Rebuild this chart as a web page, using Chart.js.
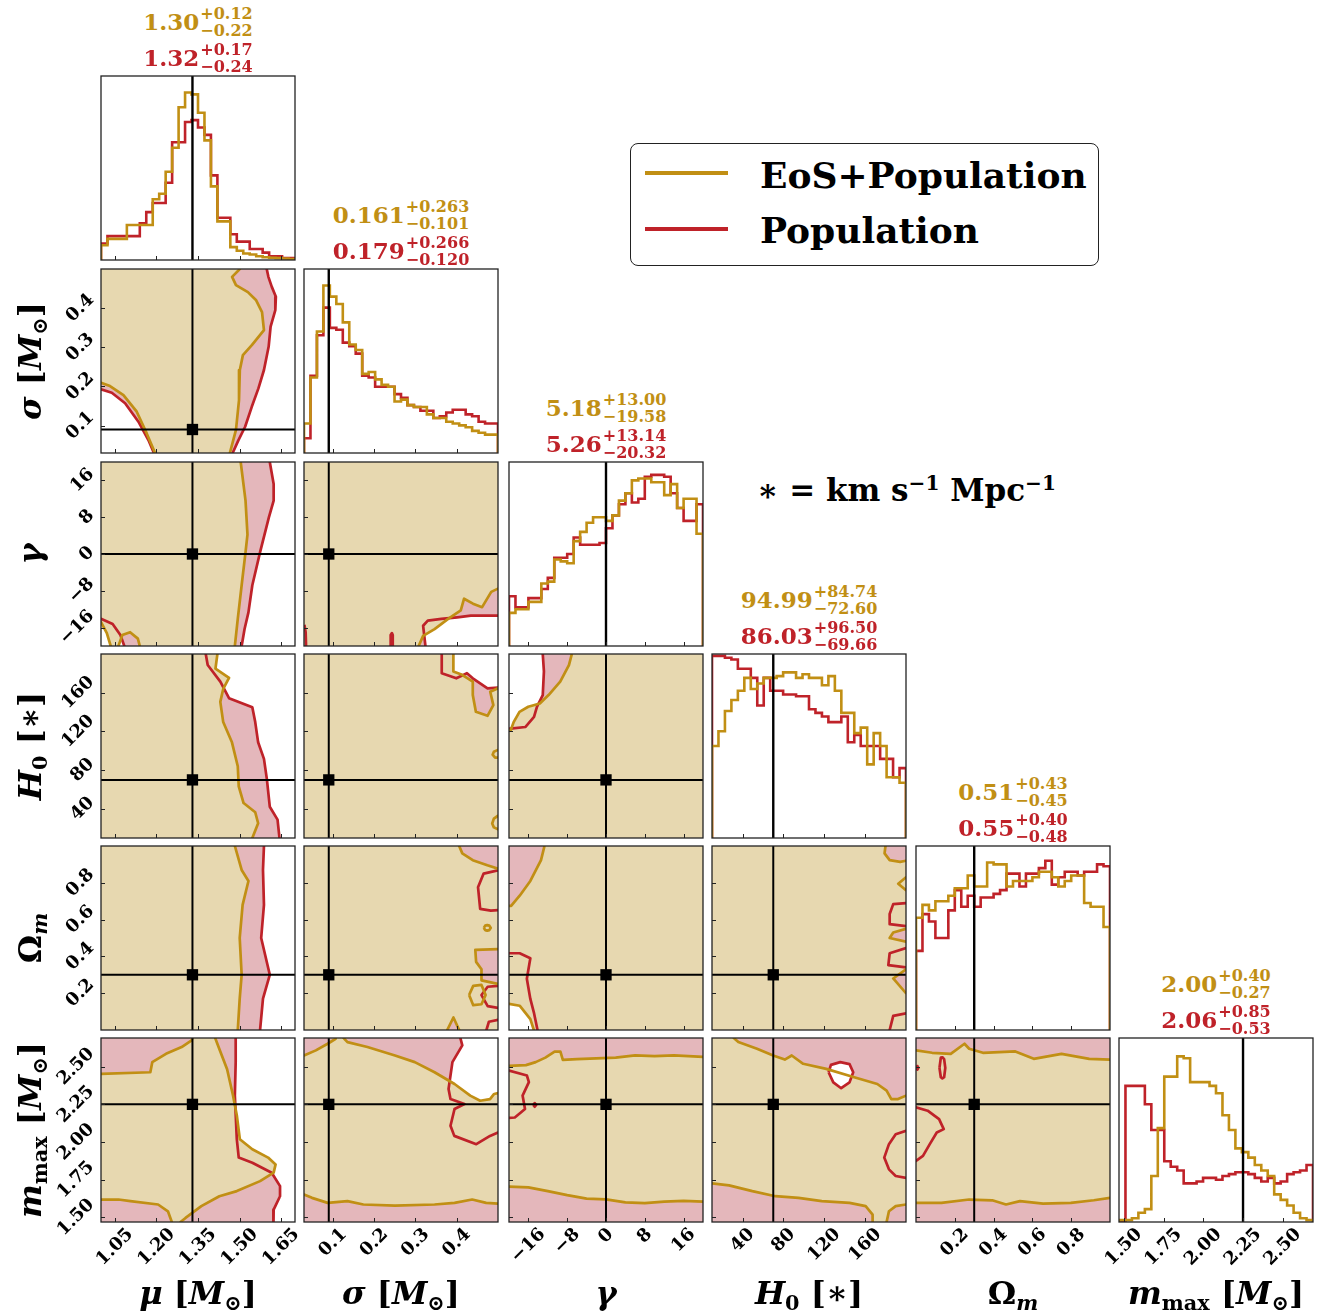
<!DOCTYPE html>
<html>
<head>
<meta charset="utf-8">
<script src="https://cdn.jsdelivr.net/npm/chart.js@4.4.1/dist/chart.umd.min.js"></script>
<style>
body { margin: 0; background: #fff; }
#fig { position: relative; width: 1323px; height: 1313px; overflow: hidden; background: #fff;
       font-family: "DejaVu Serif", serif; font-weight: bold; color: #000; }
#fig canvas { position: absolute; }
.ttl { position: absolute; display: flex; align-items: center; white-space: nowrap; transform: translate(-50%, -50%); }
.ttl .v { font-size: 23px; line-height: 26px; }
.ttl .ss { display: flex; flex-direction: column; font-size: 16px; line-height: 17px; margin-left: 1px; }
.xl { position: absolute; transform: translate(-50%, -50%); font-size: 32px; white-space: nowrap; }
.yl { position: absolute; transform: translate(-50%, -50%) rotate(-90deg); font-size: 32px; white-space: nowrap; }
sub { font-size: 0.65em; vertical-align: -0.3em; line-height: 0; }
sup { font-size: 0.65em; vertical-align: 0.55em; line-height: 0; }
#leg { position: absolute; left: 630px; top: 143px; width: 467px; height: 121px; border: 1.5px solid #222; border-radius: 8px; }
.lgl { position: absolute; left: 645px; width: 83px; height: 4px; }
.lgt { position: absolute; left: 760px; font-size: 36px; transform: translateY(-50%); white-space: nowrap; }
</style>
</head>
<body>
<div id="fig"></div>
<script>
// colours
const EOS = '#c18f14', POP = '#bf2229';
const EOS_FILL = '#e7d8b0', POP_FILL = '#e4b7bb';

// axes (mu, sigma, gamma, H0, Omega_m, m_max)
const axisMin = [1.0, 0.03, -20, 10, 0, 1.47];
const axisMax = [1.7, 0.5, 20, 200, 1, 2.69];
const truth = [1.33, 0.09, 0, 70, 0.3, 2.25];

const muTicks = [1.05, 1.20, 1.35, 1.50, 1.65];
const sigmaTicks = [0.1, 0.2, 0.3, 0.4];
const gammaTicks = [-16, -8, 0, 8, 16];
const h0Ticks = [40, 80, 120, 160];
const omTicks = [0.2, 0.4, 0.6, 0.8];
const mmaxTicks = [1.50, 1.75, 2.00, 2.25, 2.50];

const muTickLabels = ['1.05', '1.20', '1.35', '1.50', '1.65'];
const sigmaTickLabels = ['0.1', '0.2', '0.3', '0.4'];
const gammaTickLabels = ['\u221216', '\u22128', '0', '8', '16'];
const h0TickLabels = ['40', '80', '120', '160'];
const omTickLabels = ['0.2', '0.4', '0.6', '0.8'];
const mmaxTickLabels = ['1.50', '1.75', '2.00', '2.25', '2.50'];

const axisLabels = ['<i>\u03bc</i> [<i>M</i><sub>\u2299</sub>]', '<i>\u03c3</i> [<i>M</i><sub>\u2299</sub>]',
  '<i>\u03b3</i>', '<i>H</i><sub>0</sub> [\u2217]', '\u03a9<sub><i>m</i></sub>',
  '<i>m</i><sub>max</sub> [<i>M</i><sub>\u2299</sub>]'];

// summary titles
const eosMedian = ['1.30', '0.161', '5.18', '94.99', '0.51', '2.00'];
const eosPlus = ['0.12', '0.263', '13.00', '84.74', '0.43', '0.40'];
const eosMinus = ['0.22', '0.101', '19.58', '72.60', '0.45', '0.27'];
const popMedian = ['1.32', '0.179', '5.26', '86.03', '0.55', '2.06'];
const popPlus = ['0.17', '0.266', '13.14', '96.50', '0.40', '0.85'];
const popMinus = ['0.24', '0.120', '20.32', '69.66', '0.48', '0.53'];

// 1D histograms (relative density, 30 bins over the axis range)
const muHistEos = [.08,.115,.115,.115,.19,.19,.19,.19,.33,.36,.48,.61,.83,.91,.90,.80,.65,.40,.21,.21,.07,.05,.035,.03,.02,.015,.012,.01,.008,.005];
const muHistPop = [.09,.13,.13,.13,.13,.13,.20,.26,.31,.31,.42,.64,.64,.75,.76,.72,.68,.46,.23,.23,.14,.10,.10,.06,.06,.04,.02,.02,.01,.01];
const sigmaHistEos = [.16,.41,.66,.91,.85,.81,.71,.59,.56,.43,.44,.40,.37,.36,.28,.29,.26,.25,.25,.21,.19,.19,.17,.16,.15,.14,.12,.11,.10,.10];
const sigmaHistPop = [.08,.42,.64,.79,.68,.67,.60,.58,.54,.42,.41,.36,.36,.36,.32,.30,.26,.25,.23,.23,.19,.20,.22,.235,.235,.21,.20,.17,.16,.16];
const gammaHistEos = [.18,.20,.20,.24,.24,.34,.35,.47,.46,.45,.57,.62,.67,.70,.70,.68,.71,.79,.83,.90,.91,.91,.89,.89,.82,.88,.75,.80,.80,.61];
const gammaHistPop = [.27,.21,.21,.26,.26,.31,.37,.48,.48,.50,.59,.55,.55,.55,.56,.64,.71,.77,.83,.78,.80,.92,.93,.93,.92,.83,.75,.68,.68,.77];
const h0HistEos = [.50,.58,.69,.75,.80,.87,.81,.84,.87,.87,.88,.90,.90,.87,.89,.87,.87,.83,.88,.80,.68,.68,.57,.60,.40,.57,.50,.33,.33,.30];
const h0HistPop = [.99,.99,.98,.97,.92,.92,.87,.72,.87,.80,.80,.78,.78,.77,.77,.70,.68,.66,.63,.63,.66,.52,.56,.50,.50,.50,.43,.43,.33,.38];
const omHistEos = [.61,.68,.65,.70,.70,.73,.77,.77,.84,.78,.78,.91,.90,.90,.78,.81,.81,.81,.83,.86,.86,.83,.78,.81,.84,.84,.69,.67,.67,.56];
const omHistPop = [.43,.63,.59,.50,.50,.65,.76,.67,.73,.67,.72,.72,.74,.76,.85,.85,.78,.85,.85,.88,.92,.79,.83,.86,.86,.84,.86,.86,.90,.89];
const mmaxHistEos = [.01,.01,.02,.05,.07,.25,.51,.79,.79,.90,.89,.76,.76,.76,.74,.70,.58,.50,.40,.38,.35,.31,.28,.25,.15,.12,.09,.05,.02,.01];
const mmaxHistPop = [0,.74,.74,.74,.64,.50,.50,.33,.30,.28,.21,.21,.22,.24,.24,.23,.25,.26,.27,.27,.26,.24,.22,.24,.21,.22,.26,.27,.28,.31];

// 2D credible regions [x, y] (points past the axis limits close the shapes off-panel)
const muSigEos = [[0.95,0.55],[1.501,0.55],[1.501,0.5],[1.473,0.48],[1.487,0.459],[1.530,0.441],[1.559,0.421],[1.581,0.39],[1.588,0.344],[1.545,0.306],[1.512,0.28],[1.501,0.242],[1.498,0.165],[1.487,0.089],[1.465,0.03],[1.465,0.0],[1.195,0.0],[1.195,0.03],[1.165,0.080],[1.129,0.1355],[1.081,0.178],[1.0325,0.201],[1.0,0.2096],[0.95,0.21]];
const muSigPop = [[0.95,0.55],[1.598,0.55],[1.598,0.5],[1.604,0.48],[1.616,0.455],[1.631,0.429],[1.629,0.395],[1.612,0.353],[1.605,0.302],[1.588,0.242],[1.568,0.195],[1.544,0.148],[1.520,0.097],[1.496,0.063],[1.475,0.03],[1.475,0.0],[1.191,0.0],[1.191,0.03],[1.171,0.063],[1.135,0.110],[1.087,0.157],[1.039,0.184],[1.0,0.1926],[0.95,0.193]];

const muGamEos = [[0.95,22],[1.504,22],[1.504,20],[1.5215,11.6],[1.5285,4.2],[1.5215,0.4],[1.5075,-6.8],[1.4935,-14.1],[1.483,-20],[1.483,-22],[1.14,-22],[1.14,-20],[1.133,-18.4],[1.105,-17],[1.077,-17.6],[1.063,-20],[1.063,-22],[1.035,-22],[1.035,-20],[1.021,-17.2],[1.0,-14.8],[0.95,-14.8]];
const muGamPop = [[0.95,22],[1.609,22],[1.609,20],[1.623,15.2],[1.623,11.6],[1.6055,7.9],[1.574,0.4],[1.546,-6.8],[1.532,-12.7],[1.518,-16.3],[1.5075,-20],[1.5075,-22],[1.084,-22],[1.084,-20],[1.07,-17.6],[1.042,-15.2],[1.0,-14.1],[0.95,-14.1]];

const muH0Eos = [[0.95,210],[1.42,210],[1.42,200],[1.413,184.8],[1.462,175.3],[1.441,163.9],[1.4305,150.6],[1.441,129.7],[1.4725,108.8],[1.4935,84.1],[1.497,63.2],[1.5145,46.1],[1.5565,36.6],[1.567,25.2],[1.546,10],[1.546,0],[0.95,0]];
const muH0Pop = [[0.95,210],[1.378,210],[1.378,200],[1.385,188.6],[1.4305,171.5],[1.462,154.4],[1.546,144.9],[1.5565,129.7],[1.567,108.8],[1.588,91.7],[1.5985,70.8],[1.609,42.3],[1.637,29],[1.644,10],[1.644,0],[0.95,0]];

const muOmEos = [[0.95,1.05],[1.483,1.05],[1.483,1],[1.5075,0.87],[1.532,0.81],[1.511,0.68],[1.5005,0.5],[1.5075,0.3],[1.5005,0.17],[1.4935,0],[1.4935,-0.05],[0.95,-0.05]];
const muOmPop = [[0.95,1.05],[1.588,1.05],[1.588,1],[1.5845,0.87],[1.588,0.68],[1.578,0.5],[1.609,0.3],[1.5845,0.17],[1.574,0],[1.574,-0.05],[0.95,-0.05]];

const muMmaxEos = [[0.95,2.452],[1.0,2.452],[1.178,2.463],[1.185,2.53],[1.2345,2.585],[1.291,2.63],[1.327,2.674],[1.33,2.69],[1.33,2.8],[1.412,2.8],[1.412,2.69],[1.427,2.617],[1.455,2.483],[1.476,2.312],[1.49,2.178],[1.501,2.019],[1.546,1.952],[1.603,1.897],[1.63,1.852],[1.623,1.797],[1.574,1.741],[1.49,1.675],[1.427,1.641],[1.362,1.575],[1.305,1.497],[1.287,1.47],[1.287,1.4],[1.2555,1.4],[1.2555,1.47],[1.2415,1.541],[1.206,1.586],[1.106,1.608],[1.063,1.619],[1.0,1.619],[0.95,1.619]];
const muMmaxPop = [[0.95,2.8],[1.486,2.8],[1.486,2.69],[1.486,2.53],[1.483,2.308],[1.49,2.019],[1.497,1.897],[1.546,1.863],[1.616,1.797],[1.646,1.708],[1.646,1.641],[1.623,1.552],[1.622,1.47],[1.622,1.4],[0.95,1.4]];

const sigGamEos = [[0.0,22],[0.55,22],[0.55,-7.52],[0.5,-7.52],[0.4836,-8.24],[0.4615,-11.56],[0.4394,-10.8],[0.4178,-9.72],[0.4098,-12.28],[0.3792,-14.12],[0.3463,-16.32],[0.3186,-17.8],[0.3078,-20],[0.3078,-22],[0.0,-22]];
const sigGamPop = [[0,22],[0.55,22],[0.55,-13.4],[0.5,-13.4],[0.4342,-13.4],[0.4013,-13.76],[0.3628,-14.12],[0.3299,-14.48],[0.3186,-15.6],[0.3242,-20],[0.3242,-22],[0,-22]];
const sigGamPopEdge = [[0.031,-15.4],[0.034,-17],[0.035,-20],[0.035,-22]];
const sigGamPopBlob = [[0.240,-22],[0.240,-17.6],[0.243,-17.2],[0.245,-17.6],[0.245,-22]];

const sigH0Eos = [[0,210],[0.3919,210],[0.3919,200],[0.3919,182],[0.413,178.5],[0.4389,171.5],[0.4389,157.6],[0.4464,140.3],[0.4746,136.2],[0.4887,147.2],[0.4812,161],[0.5,164.7],[0.55,164.7],[0.55,0],[0,0]];
const sigH0Pop = [[0,210],[0.3637,210],[0.3637,200],[0.3637,180.2],[0.399,174.9],[0.4248,180.2],[0.4389,174.9],[0.4746,164.5],[0.5,165.2],[0.55,165.2],[0.55,0],[0,0]];
const sigH0EosEdgeA = [[0.55,101],[0.5,101],[0.49,99],[0.487,96],[0.493,93],[0.5,93],[0.55,93]];
const sigH0EosEdgeB = [[0.55,33],[0.5,33],[0.49,30],[0.486,25],[0.49,21],[0.5,19],[0.55,19]];

const sigOmEos = [[0,1.05],[0.406,1.05],[0.406,1],[0.4135,0.96],[0.4389,0.923],[0.4742,0.895],[0.5,0.877],[0.55,0.877],[0.55,0.44],[0.5,0.44],[0.445,0.436],[0.447,0.37],[0.46,0.33],[0.46,0.27],[0.5,0.25],[0.55,0.25],[0.55,-0.05],[0.406,-0.05],[0.406,0],[0.392,0.068],[0.377,0],[0.377,-0.05],[0,-0.05]];
const sigOmPop = [[0,1.05],[0.55,1.05],[0.55,0.868],[0.5,0.868],[0.4652,0.85],[0.4516,0.776],[0.4568,0.658],[0.4826,0.649],[0.5,0.651],[0.55,0.651],[0.55,-0.05],[0,-0.05]];
const sigOmEosDot = [[0.4655,0.555],[0.469,0.567],[0.474,0.57],[0.479,0.567],[0.4825,0.555],[0.479,0.543],[0.474,0.54],[0.469,0.543],[0.4655,0.555]];
const sigOmEosLoop = [[0.43,0.19],[0.44,0.24],[0.46,0.245],[0.47,0.19],[0.46,0.14],[0.44,0.135],[0.43,0.19]];
const sigOmPopLoop = [[0.55,0.24],[0.5,0.24],[0.475,0.235],[0.46,0.19],[0.475,0.13],[0.5,0.12],[0.55,0.12]];
const sigOmPopCorner = [[0.55,0.055],[0.5,0.055],[0.478,0.045],[0.472,0],[0.472,-0.05]];

const sigMmaxEos = [[0,2.574],[0.03,2.574],[0.0587,2.608],[0.0873,2.652],[0.1066,2.685],[0.1066,2.69],[0.1066,2.8],[0.1259,2.8],[0.1259,2.69],[0.1353,2.663],[0.1837,2.63],[0.2504,2.574],[0.2984,2.53],[0.3463,2.463],[0.3947,2.385],[0.4328,2.308],[0.4568,2.274],[0.4807,2.285],[0.4906,2.319],[0.5,2.324],[0.55,2.324],[0.55,1.592],[0.5,1.592],[0.4713,1.597],[0.4375,1.619],[0.3947,1.597],[0.3463,1.586],[0.2504,1.579],[0.1738,1.586],[0.1353,1.608],[0.0873,1.597],[0.0493,1.63],[0.03,1.652],[0,1.652]];
const sigMmaxPop = [[0,2.8],[0.4088,2.8],[0.4088,2.69],[0.4135,2.641],[0.3896,2.53],[0.3802,2.352],[0.3849,2.285],[0.4187,2.252],[0.3947,2.219],[0.3849,2.108],[0.3941,2.041],[0.4474,1.986],[0.4807,2.041],[0.5,2.063],[0.55,2.063],[0.55,1.4],[0,1.4]];

const gamH0Eos = [[-7.04,210],[22,210],[22,0],[-22,0],[-22,121.2],[-19.64,121.2],[-19.04,129.7],[-17.84,140.3],[-16.04,145.5],[-13.64,148.9],[-11.84,157.6],[-9.44,171.5],[-7.64,188.6],[-7.04,200]];
const gamH0Pop = [[-13.04,210],[22,210],[22,0],[-22,0],[-22,122.9],[-19.64,122.9],[-16.64,124.6],[-14.84,135],[-14.24,145.5],[-13.04,157.6],[-12.8,182],[-13.04,200]];

const gamOmEos = [[-12.68,1.05],[22,1.05],[22,-0.05],[-14.88,-0.05],[-14.88,0],[-15.6,0.059],[-17.8,0.132],[-20,0.142],[-22,0.142],[-22,0.67],[-19.56,0.675],[-17.8,0.73],[-15.6,0.81],[-13.4,0.923],[-12.68,1]];
const gamOmPop = [[-22,1.05],[22,1.05],[22,-0.05],[-14.12,-0.05],[-14.12,0],[-14.88,0.096],[-15.6,0.169],[-16.32,0.279],[-15.6,0.39],[-17.8,0.417],[-20,0.417],[-22,0.417]];

const gamMmaxEos = [[-22,2.505],[-20,2.505],[-16.5,2.51],[-14.5,2.53],[-12.5,2.56],[-10.6,2.60],[-9.4,2.60],[-8.9,2.545],[-6,2.55],[-2,2.555],[2,2.56],[6,2.575],[10,2.57],[14,2.575],[20,2.565],[22,2.565],[22,1.605],[20,1.605],[16,1.61],[12,1.605],[8,1.595],[4,1.60],[0,1.62],[-4,1.625],[-8,1.648],[-12,1.675],[-16,1.70],[-20,1.705],[-22,1.705]];
const gamMmaxPop = [[-22,2.8],[22,2.8],[22,1.4],[-22,1.4]];
const gamMmaxPopLoop = [[-22,2.474],[-20,2.474],[-16.3,2.441],[-15.9,2.397],[-17.2,2.308],[-16.7,2.219],[-18.8,2.163],[-20,2.16],[-22,2.16]];
const gamMmaxPopDot = [[-15.0,2.246],[-14.7,2.258],[-14.4,2.246],[-14.7,2.234],[-15.0,2.246]];

const h0OmEos = [[0,1.05],[179.9,1.05],[179.9,1],[179,0.96],[184,0.923],[194.3,0.914],[200,0.92],[210,0.92],[210,0.55],[200,0.55],[187.5,0.53],[184,0.5],[200,0.48],[210,0.48],[210,0.33],[200,0.33],[187.5,0.28],[200,0.2],[210,0.2],[210,-0.05],[0,-0.05]];
const h0OmPop = [[0,1.05],[210,1.05],[210,-0.05],[0,-0.05]];
const h0OmEosEdge = [[210,0.83],[200,0.83],[192.4,0.795],[200,0.76],[210,0.76]];
const h0OmPopEdgeA = [[210,0.69],[200,0.69],[187.5,0.684],[184,0.63],[184,0.575],[200,0.565],[210,0.565]];
const h0OmPopEdgeB = [[210,0.445],[200,0.445],[184,0.417],[182.7,0.353],[200,0.34],[210,0.34]];
const h0OmPopEdgeC = [[210,0.09],[200,0.09],[187.5,0.077],[184,0],[184,-0.05]];

const h0MmaxEos = [[0,2.8],[31.3,2.8],[31.3,2.69],[35.8,2.663],[54.1,2.619],[69.9,2.574],[81.3,2.547],[88.1,2.574],[99.3,2.519],[121.9,2.485],[149.3,2.43],[171.9,2.385],[181,2.341],[185.6,2.285],[192.2,2.285],[200,2.308],[210,2.308],[210,1.586],[200,1.586],[189.9,1.575],[183.3,1.541],[181,1.47],[181,1.4],[167.3,1.4],[167.3,1.47],[167.3,1.519],[160.5,1.575],[144.7,1.597],[117.5,1.608],[94.7,1.63],[72.1,1.641],[49.5,1.675],[26.7,1.713],[10,1.726],[0,1.726]];
const h0MmaxPop = [[0,2.8],[210,2.8],[210,1.4],[0,1.4]];
const h0MmaxHole = [[124.2,2.463],[126.5,2.512],[135.6,2.53],[144.7,2.517],[148.3,2.463],[144.7,2.396],[136.5,2.357],[128.8,2.396],[124.2,2.463]];
const h0MmaxPopLoop = [[210,2.074],[200,2.074],[189.9,2.052],[183.3,1.986],[178.7,1.897],[183.3,1.819],[189.9,1.775],[200,1.763],[210,1.763]];

const omMmaxEos = [[-0.05,2.608],[0,2.608],[0.083,2.592],[0.179,2.585],[0.25,2.652],[0.274,2.619],[0.345,2.592],[0.512,2.601],[0.607,2.552],[0.75,2.585],[0.893,2.552],[1,2.547],[1.05,2.547],[1.05,1.63],[1,1.63],[0.917,1.614],[0.798,1.597],[0.655,1.592],[0.536,1.608],[0.464,1.586],[0.393,1.614],[0.274,1.619],[0.131,1.597],[0,1.597],[-0.05,1.597]];
const omMmaxPop = [[-0.05,2.8],[1.05,2.8],[1.05,1.4],[-0.05,1.4]];
const omMmaxPopEllipse = [[0.121,2.492],[0.128,2.56],[0.136,2.562],[0.145,2.55],[0.151,2.492],[0.145,2.43],[0.136,2.422],[0.128,2.43],[0.121,2.492]];
const omMmaxPopDot = [[0.002,2.492],[0.007,2.504],[0.012,2.492],[0.007,2.48],[0.002,2.492]];
const omMmaxPopLoop = [[-0.05,2.23],[0,2.23],[0.06,2.208],[0.119,2.152],[0.143,2.086],[0.107,2.063],[0.071,1.986],[0.036,1.908],[0,1.875],[-0.05,1.875]];

// lookup tables built from the arrays above
const ticks = [muTicks, sigmaTicks, gammaTicks, h0Ticks, omTicks, mmaxTicks];
const tickLabels = [muTickLabels, sigmaTickLabels, gammaTickLabels, h0TickLabels, omTickLabels, mmaxTickLabels];
const histEos = [muHistEos, sigmaHistEos, gammaHistEos, h0HistEos, omHistEos, mmaxHistEos];
const histPop = [muHistPop, sigmaHistPop, gammaHistPop, h0HistPop, omHistPop, mmaxHistPop];
const regions = {
  '1,0': {eos: [muSigEos], pop: [muSigPop]},
  '2,0': {eos: [muGamEos], pop: [muGamPop]},
  '3,0': {eos: [muH0Eos], pop: [muH0Pop]},
  '4,0': {eos: [muOmEos], pop: [muOmPop]},
  '5,0': {eos: [muMmaxEos], pop: [muMmaxPop]},
  '2,1': {eos: [sigGamEos], pop: [sigGamPop], popLine: [sigGamPopEdge, sigGamPopBlob]},
  '3,1': {eos: [sigH0Eos], pop: [sigH0Pop], eosLine: [sigH0EosEdgeA, sigH0EosEdgeB]},
  '4,1': {eos: [sigOmEos], pop: [sigOmPop], eosLine: [sigOmEosDot, sigOmEosLoop], popLine: [sigOmPopLoop, sigOmPopCorner]},
  '5,1': {eos: [sigMmaxEos], pop: [sigMmaxPop]},
  '3,2': {eos: [gamH0Eos], pop: [gamH0Pop]},
  '4,2': {eos: [gamOmEos], pop: [gamOmPop]},
  '5,2': {eos: [gamMmaxEos], pop: [gamMmaxPop], popLine: [gamMmaxPopLoop, gamMmaxPopDot]},
  '4,3': {eos: [h0OmEos], pop: [h0OmPop], eosLine: [h0OmEosEdge], popLine: [h0OmPopEdgeA, h0OmPopEdgeB, h0OmPopEdgeC]},
  '5,3': {eos: [h0MmaxEos], pop: [h0MmaxPop], hole: [h0MmaxHole], popLine: [h0MmaxPopLoop]},
  '5,4': {eos: [omMmaxEos], pop: [omMmaxPop], popLine: [omMmaxPopEllipse, omMmaxPopDot, omMmaxPopLoop]}
};

// layout
const COLS = [101, 304, 509, 712, 916, 1119];
const ROWS = [76, 269, 462, 654, 846, 1038];
const PW = 194, PH = 184;
const fig = document.getElementById('fig');

function pts(arr) { return arr.map(p => ({x: p[0], y: p[1]})); }

function fillSet(poly, color, order) {
  return {data: pts(poly), showLine: true, fill: 'shape', backgroundColor: color,
    borderColor: 'rgba(0,0,0,0)', borderWidth: 1, pointRadius: 0, tension: 0, order: order};
}
function lineSet(poly, color, order, width) {
  return {data: pts(poly), showLine: true, fill: false, borderColor: color, borderWidth: width || 2.7,
    pointRadius: 0, tension: 0, order: order, borderJoinStyle: 'round'};
}
function histSet(vals, lo, hi, color, order) {
  const n = vals.length;
  const d = [{x: lo, y: 0}];
  vals.forEach((v, i) => d.push({x: lo + (hi - lo) * i / n, y: v}));
  d.push({x: hi, y: vals[n - 1]});
  d.push({x: hi, y: 0});
  return {data: d, showLine: true, stepped: true, fill: false, borderColor: color, borderWidth: 2.6,
    pointRadius: 0, order: order};
}

function framePlugin(r, c) {
  return {
    id: 'frame',
    afterDraw(chart) {
      const ctx = chart.ctx, a = chart.chartArea;
      const x = chart.scales.x, y = chart.scales.y;
      ctx.save();
      ctx.strokeStyle = '#222';
      ctx.lineWidth = 1;
      ctx.beginPath();
      ticks[c].forEach(v => {
        const px = Math.round(x.getPixelForValue(v)) + 0.5;
        ctx.moveTo(px, a.bottom); ctx.lineTo(px, a.bottom - 4);
      });
      if (r !== c) {
        ticks[r].forEach(v => {
          const py = Math.round(y.getPixelForValue(v)) + 0.5;
          ctx.moveTo(a.left, py); ctx.lineTo(a.left + 4, py);
        });
      }
      ctx.stroke();
      ctx.lineWidth = 1.3;
      ctx.strokeRect(a.left, a.top, a.right - a.left, a.bottom - a.top);

      ctx.fillStyle = '#000';
      ctx.font = 'bold 18px "DejaVu Serif"';
      ctx.textAlign = 'center';
      ctx.textBaseline = 'middle';
      const h = 13, pad = 5;
      const put = (txt, cx, cy) => {
        ctx.save(); ctx.translate(cx, cy); ctx.rotate(-Math.PI / 4); ctx.fillText(txt, 0, 0); ctx.restore();
      };
      if (r === 5) {
        ticks[c].forEach((v, i) => {
          const t = tickLabels[c][i];
          const s = (ctx.measureText(t).width + h) / (2 * Math.SQRT2);
          put(t, x.getPixelForValue(v), a.bottom + pad + s);
        });
      }
      if (c === 0 && r > 0) {
        ticks[r].forEach((v, i) => {
          const t = tickLabels[r][i];
          const s = (ctx.measureText(t).width + h) / (2 * Math.SQRT2);
          put(t, a.left - pad - s, y.getPixelForValue(v));
        });
      }
      ctx.restore();
    }
  };
}

function makePanel(r, c) {
  const padL = c === 0 ? 75 : (r === 5 ? 40 : 4);
  const padR = r === 5 ? 30 : 4, padT = 4, padB = r === 5 ? 75 : 4;
  const cv = document.createElement('canvas');
  cv.width = PW + padL + padR; cv.height = PH + padT + padB;
  cv.style.width = cv.width + 'px'; cv.style.height = cv.height + 'px';
  cv.style.left = (COLS[c] - padL) + 'px'; cv.style.top = (ROWS[r] - padT) + 'px';
  fig.appendChild(cv);

  let datasets = [], yMin, yMax;
  if (r === c) {
    yMin = 0; yMax = 1;
    datasets.push(histSet(histPop[c], axisMin[c], axisMax[c], POP, 30));
    datasets.push(histSet(histEos[c], axisMin[c], axisMax[c], EOS, 20));
    datasets.push(lineSet([[truth[c], 0], [truth[c], 1]], '#000', 10, 2.4));
  } else {
    yMin = axisMin[r]; yMax = axisMax[r];
    const p = regions[r + ',' + c];
    (p.pop || []).forEach(a => datasets.push(fillSet(a, POP_FILL, 60)));
    (p.eos || []).forEach(a => datasets.push(fillSet(a, EOS_FILL, 50)));
    (p.hole || []).forEach(a => datasets.push(fillSet(a, '#ffffff', 45)));
    [].concat(p.pop || [], p.hole || [], p.popLine || []).forEach(a => datasets.push(lineSet(a, POP, 30)));
    [].concat(p.eos || [], p.eosLine || []).forEach(a => datasets.push(lineSet(a, EOS, 20)));
    datasets.push(lineSet([[truth[c], axisMin[r]], [truth[c], axisMax[r]]], '#000', 10, 2));
    datasets.push(lineSet([[axisMin[c], truth[r]], [axisMax[c], truth[r]]], '#000', 10, 2));
    datasets.push({data: [{x: truth[c], y: truth[r]}], pointStyle: 'rect', pointRadius: 8,
      backgroundColor: '#000', borderWidth: 0, order: 5});
  }

  new Chart(cv.getContext('2d'), {
    type: 'scatter',
    data: {datasets: datasets},
    options: {
      responsive: false,
      animation: false,
      events: [],
      devicePixelRatio: 1,
      layout: {autoPadding: false, padding: {left: padL, right: padR, top: padT, bottom: padB}},
      plugins: {legend: {display: false}, tooltip: {enabled: false}},
      scales: {
        x: {type: 'linear', min: axisMin[c], max: axisMax[c], display: false},
        y: {type: 'linear', min: yMin, max: yMax, display: false}
      }
    },
    plugins: [framePlugin(r, c)]
  });
}

for (let r = 0; r < 6; r++) for (let c = 0; c <= r; c++) makePanel(r, c);

// titles, axis labels, legend
function addDiv(cls, html, left, top, color) {
  const d = document.createElement('div');
  d.className = cls; d.innerHTML = html;
  d.style.left = left + 'px'; d.style.top = top + 'px';
  if (color) d.style.color = color;
  fig.appendChild(d);
  return d;
}
for (let i = 0; i < 6; i++) {
  const cx = COLS[i] + PW / 2;
  addDiv('ttl', '<span class="v">' + eosMedian[i] + '</span><span class="ss"><span>+' + eosPlus[i] +
    '</span><span>\u2212' + eosMinus[i] + '</span></span>', cx, ROWS[i] - 54, EOS);
  addDiv('ttl', '<span class="v">' + popMedian[i] + '</span><span class="ss"><span>+' + popPlus[i] +
    '</span><span>\u2212' + popMinus[i] + '</span></span>', cx, ROWS[i] - 18, POP);
  addDiv('xl', axisLabels[i], cx, 1293);
  if (i > 0) addDiv('yl', axisLabels[i], 30, ROWS[i] + PH / 2);
}

const leg = document.createElement('div'); leg.id = 'leg'; fig.appendChild(leg);
const l1 = addDiv('lgl', '', 645, 171); l1.style.background = EOS;
const l2 = addDiv('lgl', '', 645, 227); l2.style.background = POP;
addDiv('lgt', 'EoS+Population', 760, 175);
addDiv('lgt', 'Population', 760, 230);
const note = addDiv('lgt', '\u2217 = km s<sup>\u22121</sup> Mpc<sup>\u22121</sup>', 757, 490);
note.style.fontSize = '31px';
</script>
</body>
</html>
